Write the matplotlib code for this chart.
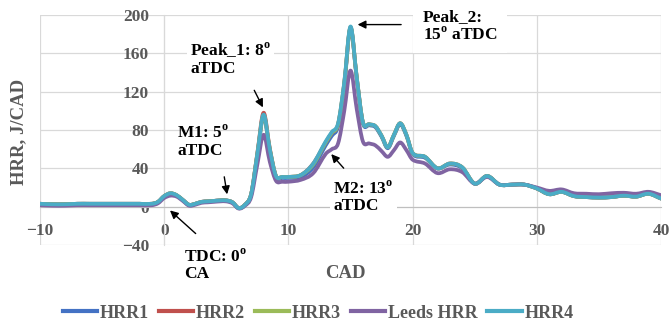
import matplotlib
matplotlib.use("Agg")
import matplotlib.pyplot as plt
from matplotlib.path import Path
from matplotlib.patches import PathPatch

plt.rcParams['font.family'] = ['Liberation Serif', 'DejaVu Serif']
plt.rcParams['font.weight'] = 'bold'
plt.rcParams['mathtext.fontset'] = 'custom'
plt.rcParams['mathtext.rm'] = 'Liberation Serif:bold'
plt.rcParams['mathtext.bf'] = 'Liberation Serif:bold'

cad = [-10, -9, -8, -7, -6, -5, -4, -3, -2, -1, -0.5, 0, 0.5, 1, 1.5, 2, 2.5, 3, 3.5, 4,
       4.5, 5, 5.5, 6, 6.5, 7, 7.5, 8, 8.5, 9, 9.5, 10, 11, 12, 13, 13.5, 14, 14.5, 15, 15.5,
       16, 16.5, 17, 17.5, 18, 18.5, 19, 19.5, 20, 21, 22, 23, 24, 25, 26, 27, 28, 29, 30, 31,
       32, 33, 34, 35, 36, 37, 38, 39, 40]

hrr4 = [3, 2.5, 2.5, 3, 3, 3, 3, 3, 3, 3, 5, 11, 14, 12, 7, 2, 3, 5, 5.5, 6,
        6.5, 6.5, 4.5, -1.5, 2, 13, 55, 96, 60, 32, 31, 31, 33, 45, 68, 78, 87, 130, 188, 135,
        88, 86, 84, 74, 62, 75, 87, 75, 56, 52, 40, 45, 41, 24, 32, 23, 23, 23, 19, 13,
        15.5, 11, 10, 9.5, 10, 11.5, 10.5, 13.5, 8.5]

hrr1 = [3, 2.5, 2.5, 3, 3, 3, 3, 3, 3, 3, 5, 11, 13.5, 11.5, 7, 2, 3, 5, 5.5, 6,
        6.5, 6.5, 4.5, -1.5, 2, 13, 54, 94, 59, 31, 30, 30, 31, 41, 64, 74, 84, 127, 186, 134,
        87, 85, 83, 73, 61, 74, 86, 74, 55, 51, 40, 44, 40, 24, 32, 23, 23, 23, 19, 13,
        15.5, 11, 10, 9.5, 10, 11.5, 10.5, 13.5, 8.5]

hrr2 = [3, 2.5, 2.5, 3, 3, 3, 3, 3, 3, 3, 5, 11, 14, 12, 7, 2, 3, 5, 5.5, 6,
        6.5, 6.5, 4.5, -1.5, 2, 13, 56, 98, 61, 32, 31, 31, 33, 45, 67, 77, 86, 129, 187, 135,
        88, 86, 84, 74, 62, 75, 87, 75, 56, 52, 40, 45, 41, 24, 32, 23, 23, 23, 19, 13,
        15.5, 11, 10, 9.5, 10, 11.5, 10.5, 13.5, 8.5]

hrr3 = [3, 2.5, 2.5, 3, 3, 3, 3, 3, 3, 3, 5, 11, 14, 12, 7, 2, 3, 5, 5.5, 6,
        6.5, 6.5, 4.5, -1.5, 2, 13, 55, 95, 60, 32, 31, 31, 33, 44, 67, 77, 86, 129, 187, 135,
        88, 86, 84, 74, 62, 75, 87, 75, 56, 52, 40, 45, 41, 24, 32, 23, 23, 23, 19, 13,
        15.5, 11, 10, 9.5, 10, 11.5, 10.5, 13.5, 8.5]

leeds = [1.5, 1, 1, 1.5, 1.5, 1.5, 1.5, 1.5, 1.5, 1.5, 3.5, 9, 11.5, 10.5, 6, 1, 2, 4, 4.5, 5,
         5.5, 5.5, 3.5, -2, 1, 10, 44, 75, 47, 27, 26, 26, 28, 35, 55, 60, 66, 100, 142, 102,
         68, 66, 64, 58, 52, 59, 67, 59, 49, 45, 35, 39, 36, 24, 31, 23, 23, 23, 20, 16.5,
         18, 14, 13.5, 13, 14, 14.5, 13.5, 15.5, 12]

series_names = ["HRR1", "HRR2", "HRR3", "Leeds HRR", "HRR4"]
series_vals = [hrr1, hrr2, hrr3, leeds, hrr4]
colors = ["#4472C4", "#C0504D", "#9BBB59", "#8064A2", "#4BACC6"]

xticks = [-10, 0, 10, 20, 30, 40]
yticks = [-40, 0, 40, 80, 120, 160, 200]


def smooth_path(xs, ys):
    """Excel-style smoothed line: cubic Hermite segments through the data points."""
    n = len(xs)
    m = []
    for i in range(n):
        if i == 0:
            m.append((ys[1] - ys[0]) / (xs[1] - xs[0]))
        elif i == n - 1:
            m.append((ys[-1] - ys[-2]) / (xs[-1] - xs[-2]))
        else:
            m.append((ys[i + 1] - ys[i - 1]) / (xs[i + 1] - xs[i - 1]))
    verts = [(xs[0], ys[0])]
    codes = [Path.MOVETO]
    for i in range(n - 1):
        h = xs[i + 1] - xs[i]
        verts += [(xs[i] + h / 3, ys[i] + m[i] * h / 3),
                  (xs[i + 1] - h / 3, ys[i + 1] - m[i + 1] * h / 3),
                  (xs[i + 1], ys[i + 1])]
        codes += [Path.CURVE4] * 3
    return Path(verts, codes)


fig = plt.figure(figsize=(6.7, 3.24), dpi=100)
ax = fig.add_axes([40/670, 1-245/324, (661-40)/670, (245-15)/324])

handles = []
for name, vals, c in zip(series_names, series_vals, colors):
    patch = PathPatch(smooth_path(cad, vals), fill=False, edgecolor=c, lw=2.7,
                      joinstyle='round', capstyle='round', zorder=3)
    ax.add_patch(patch)
    h, = ax.plot([], [], color=c, lw=3.0, label=name)
    handles.append(h)

ax.set_xlim(-10, 40)
ax.set_ylim(-40, 200)
ax.set_xticks(xticks)
ax.set_yticks(yticks)
ax.grid(True, color="#D9D9D9", lw=0.9, zorder=0)
ax.set_axisbelow(True)
for s in ['top', 'right']:
    ax.spines[s].set_visible(False)
ax.spines['bottom'].set_position(('data', 0))
ax.spines['left'].set_position(('data', 0))
ax.spines['bottom'].set_color("#BFBFBF")
ax.spines['left'].set_color("#D9D9D9")
ax.spines['bottom'].set_zorder(1)
ax.spines['left'].set_zorder(1)
ax.tick_params(length=0, labelcolor="#595959", labelsize=12.5)
ax.tick_params(axis='x', pad=12)
ax.tick_params(axis='y', pad=11)
for lab in ax.get_xticklabels() + ax.get_yticklabels():
    lab.set_fontweight('bold')

fig.text(19/670, 1-132/324, "HRR, J/CAD", rotation=90, ha='center', va='center',
         fontsize=13.5, color="#595959", fontweight='bold')
fig.text(345/670, 1-274/324, "CAD", ha='center', va='center',
         fontsize=13.5, color="#595959", fontweight='bold')

deg = r"$^{\mathrm{o}}$"
tkw = dict(fontsize=12.5, fontweight='bold', color='black', zorder=5, linespacing=1.1,
           ha='left', va='center', clip_on=False)
akw = dict(arrowprops=dict(arrowstyle='-|>', color='black', lw=1, mutation_scale=12),
           annotation_clip=False, zorder=5)
bb = dict(boxstyle='square,pad=0.2', fc='white', ec='none')

ax.text(2.1, 154, "Peak_1: 8" + deg + "\naTDC", bbox=bb, **tkw)
ax.annotate("", xy=(8.05, 101), xytext=(7.15, 124), **akw)
ax.text(1.05, 68, "M1: 5" + deg + "\naTDC", **tkw)
ax.annotate("", xy=(5.1, 10), xytext=(4.8, 34), **akw)
ax.text(1.6, -61, "TDC: 0" + deg + "\nCA", **tkw)
ax.annotate("", xy=(0.3, -2), xytext=(2.7, -30), **akw)
ax.text(13.6, 10, "M2: 13" + deg + "\naTDC", bbox=bb, **tkw)
ax.annotate("", xy=(13.3, 57), xytext=(14.6, 38), **akw)
ax.text(20.8, 188, "Peak_2:\n15" + deg + " aTDC",
        bbox=dict(boxstyle='square,pad=0.55', fc='white', ec='none'), **tkw)
ax.annotate("", xy=(15.35, 190), xytext=(19.3, 190), **akw)

leg = fig.legend(handles, series_names, loc='center', bbox_to_anchor=(318/670, 1-313/324),
                 ncol=5, frameon=False, fontsize=13, handlelength=1.9, handletextpad=0.15,
                 columnspacing=0.55)
for t in leg.get_texts():
    t.set_color("#595959")
    t.set_fontweight('bold')

fig.savefig("out.png", dpi=100)
